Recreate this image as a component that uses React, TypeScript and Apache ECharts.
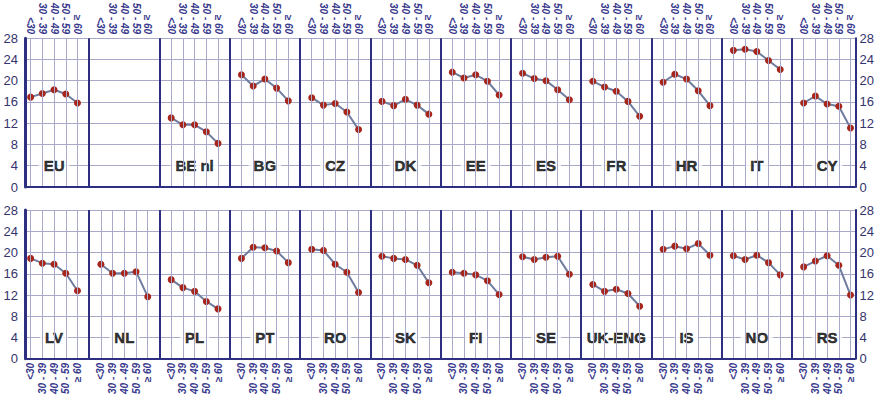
import React, { useEffect, useRef } from "react";
import * as echarts from "echarts";

const ageGroups = ["<30", "30 - 39", "40 - 49", "50 - 59", "≥ 60"];
const yTicks = [0, 4, 8, 12, 16, 20, 24, 28];

const topCountries = ["EU", "", "BE nl", "BG", "CZ", "DK", "EE", "ES", "FR", "HR", "IT", "CY"];
const topValues: (number[] | null)[] = [
  [16.9, 17.6, 18.3, 17.5, 15.8],
  null,
  [13.0, 11.7, 11.7, 10.4, 8.2],
  [21.1, 19.0, 20.3, 18.6, 16.2],
  [16.8, 15.4, 15.7, 14.1, 10.8],
  [16.1, 15.3, 16.5, 15.4, 13.7],
  [21.6, 20.5, 21.1, 19.9, 17.3],
  [21.4, 20.4, 20.0, 18.3, 16.4],
  [19.9, 18.8, 18.0, 16.1, 13.3],
  [19.7, 21.2, 20.3, 18.1, 15.3],
  [25.7, 25.9, 25.5, 23.8, 22.1],
  [15.8, 17.1, 15.6, 15.2, 11.1],
];

const bottomCountries = ["LV", "NL", "PL", "PT", "RO", "SK", "FI", "SE", "UK-ENG", "IS", "NO", "RS"];
const bottomValues: (number[] | null)[] = [
  [18.9, 18.0, 17.8, 16.1, 12.8],
  [17.8, 16.1, 16.1, 16.4, 11.7],
  [14.9, 13.4, 12.7, 10.8, 9.4],
  [18.9, 21.0, 20.9, 20.3, 18.1],
  [20.6, 20.4, 17.8, 16.3, 12.5],
  [19.3, 18.9, 18.7, 17.6, 14.3],
  [16.3, 16.1, 15.8, 14.7, 12.1],
  [19.2, 18.7, 19.1, 19.3, 15.9],
  [14.0, 12.7, 13.1, 12.3, 9.9],
  [20.6, 21.2, 20.7, 21.7, 19.5],
  [19.4, 18.7, 19.5, 18.1, 15.8],
  [17.3, 18.4, 19.4, 17.6, 12.0],
];

const SLOTS = 6; // 5 age groups + 1 gap per panel
const X_MIN = 0.52;
const X_MAX = 71.43;

const DARK = "#2f2f82";
const LIGHT = "#a9a9c9";
const LINE = "#6f7c9e";
const DOT = "#a6261c";
const AGE_COLOR = "#38388c";
const TICK_COLOR = "#34346c";
const FONT = "'Liberation Sans Narrow', 'Liberation Sans', Arial, sans-serif";
const LABEL_FONT = "'Liberation Sans', Arial, sans-serif";

function buildRow(r: number, countries: string[], values: (number[] | null)[], position: "top" | "bottom") {
  const xIndex = r;
  const yIndex = r * 2;
  const points: number[] = [];
  countries.forEach((_, i) => ageGroups.forEach((__, j) => points.push(i * SLOTS + j + 1)));

  const xAxis = {
    type: "value",
    gridIndex: r,
    position,
    min: X_MIN,
    max: X_MAX,
    axisLine: { show: false, onZero: false },
    axisTick: { show: false },
    splitLine: { show: false },
    axisLabel: {
      show: true,
      customValues: points,
      rotate: 90,
      margin: 4,
      fontSize: 10,
      fontWeight: "bold",
      fontStyle: "italic",
      fontFamily: FONT,
      color: AGE_COLOR,
      formatter: (v: number) => ageGroups[Math.round(v - 1) % SLOTS] ?? "",
    },
  };

  const yAxes = [
    {
      type: "value",
      gridIndex: r,
      position: "left",
      min: 0,
      max: 28,
      interval: 4,
      axisLine: { show: true, lineStyle: { color: DARK, width: 3 } },
      axisTick: { show: false },
      axisLabel: { margin: 7, fontSize: 13, color: TICK_COLOR, fontFamily: FONT, customValues: yTicks },
      splitLine: { show: true, lineStyle: { color: LIGHT, width: 1 } },
    },
    {
      type: "value",
      gridIndex: r,
      position: "right",
      min: 0,
      max: 28,
      interval: 4,
      axisLine: { show: true, lineStyle: { color: DARK, width: 2 } },
      axisTick: { show: false },
      axisLabel: { margin: 4, fontSize: 13, color: TICK_COLOR, fontFamily: FONT, customValues: yTicks },
      splitLine: { show: false },
    },
  ];

  // vertical grid lines & panel separators
  const markData: any[] = [];
  values.forEach((vals, i) => {
    if (vals) {
      ageGroups.forEach((_, j) => {
        markData.push({ xAxis: i * SLOTS + j + 1, lineStyle: { color: LIGHT, width: 1, type: "solid" } });
      });
    }
    if (i > 0) {
      markData.push({ xAxis: i * SLOTS, lineStyle: { color: DARK, width: 2, type: "solid" } });
    }
  });
  markData.push({ yAxis: 0, lineStyle: { color: DARK, width: 2, type: "solid" } });

  const series: any[] = [
    {
      type: "scatter",
      xAxisIndex: xIndex,
      yAxisIndex: yIndex,
      z: 1,
      silent: true,
      symbolSize: 0,
      itemStyle: { color: "rgba(0,0,0,0)" },
      data: [[36, 14]],
      markLine: {
        silent: true,
        symbol: ["none", "none"],
        label: { show: false },
        animation: false,
        data: markData,
      },
    },
    {
      type: "scatter",
      xAxisIndex: xIndex,
      yAxisIndex: yIndex,
      z: 3,
      silent: true,
      symbolSize: 1,
      itemStyle: { color: "rgba(0,0,0,0)" },
      data: countries
        .map((name, i) => [i * SLOTS + 3, 4, name])
        .filter((d) => d[2] !== ""),
      label: {
        show: true,
        position: "inside",
        formatter: (p: any) => p.value[2],
        color: "#000",
        fontWeight: 900,
        fontSize: 15,
        fontFamily: LABEL_FONT,
        textBorderColor: "#000",
        textBorderWidth: 0.5,
        backgroundColor: "#fff",
        padding: [2, 5],
      },
    },
  ];

  values.forEach((vals, i) => {
    if (!vals) return;
    series.push({
      type: "line",
      xAxisIndex: xIndex,
      yAxisIndex: yIndex,
      z: 4,
      symbol: "circle",
      symbolSize: 7,
      showSymbol: true,
      itemStyle: { color: DOT },
      lineStyle: { color: LINE, width: 2 },
      data: vals.map((v, j) => [i * SLOTS + j + 1, v]),
    });
  });

  return { xAxis, yAxes, series };
}

export default function App() {
  const ref = useRef<HTMLDivElement>(null);

  useEffect(() => {
    if (!ref.current) return;
    const chart = echarts.init(ref.current, undefined, { renderer: "svg" });
    const top = buildRow(0, topCountries, topValues, "top");
    const bottom = buildRow(1, bottomCountries, bottomValues, "bottom");
    chart.setOption({
      animation: false,
      backgroundColor: "#fff",
      grid: [
        { left: 25, right: 20, top: 32, height: 155 },
        { left: 25, right: 20, top: 210, height: 154 },
      ],
      xAxis: [top.xAxis, bottom.xAxis],
      yAxis: [...top.yAxes, ...bottom.yAxes],
      series: [...top.series, ...bottom.series],
    });
    return () => chart.dispose();
  }, []);

  return (
    <div
      ref={ref}
      style={{ position: "fixed", left: 0, top: 0, width: 877, height: 397, background: "#fff" }}
    />
  );
}
